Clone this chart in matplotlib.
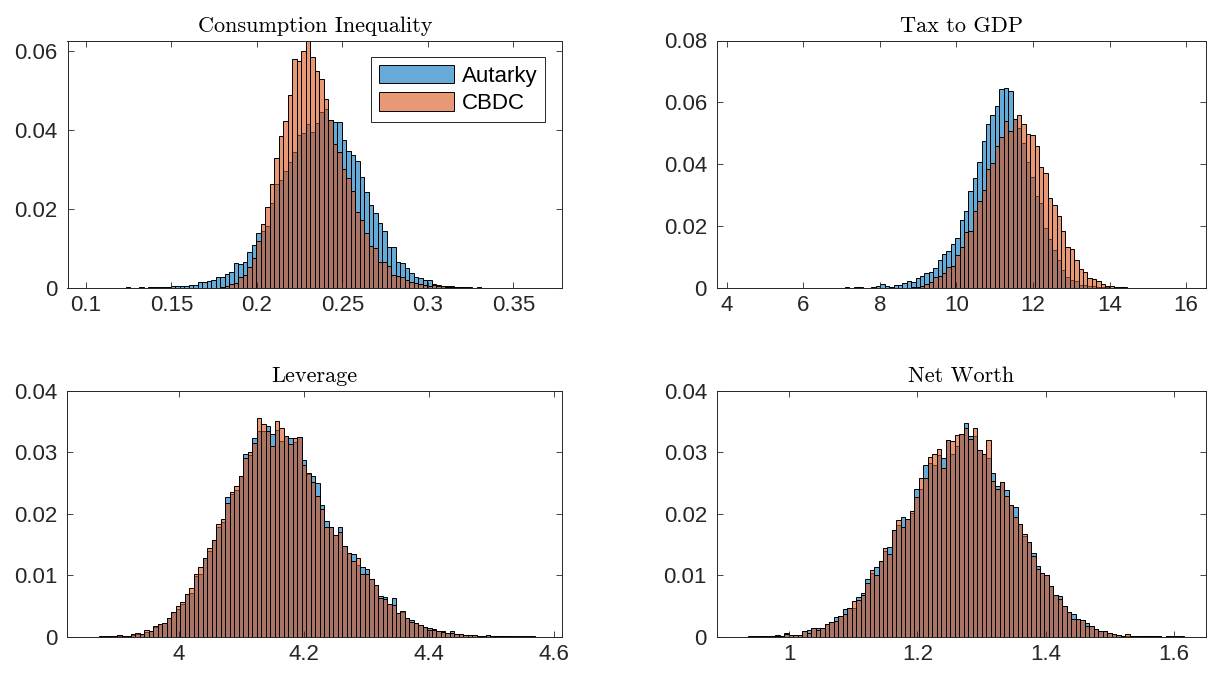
import numpy as np
import matplotlib
matplotlib.use("Agg")
import matplotlib.pyplot as plt

plt.rcParams["font.family"] = ["Liberation Sans", "DejaVu Sans"]

# bar heights (probability per bin), 100 bins each
ineq_aut = [
    0.0001, 0.0001, 0.0000, 0.0001, 0.0000, 0.0001, 0.0001, 0.0001, 0.0002, 0.0001,
    0.0001, 0.0002, 0.0001, 0.0002, 0.0002, 0.0002, 0.0003, 0.0003, 0.0004, 0.0005,
    0.0005, 0.0006, 0.0007, 0.0008, 0.0014, 0.0014, 0.0017, 0.0021, 0.0028, 0.0028,
    0.0036, 0.0041, 0.0062, 0.0060, 0.0066, 0.0090, 0.0108, 0.0139, 0.0145, 0.0158,
    0.0216, 0.0262, 0.0274, 0.0297, 0.0318, 0.0345, 0.0387, 0.0392, 0.0416, 0.0394,
    0.0417, 0.0446, 0.0454, 0.0425, 0.0420, 0.0420, 0.0374, 0.0347, 0.0336, 0.0321,
    0.0282, 0.0242, 0.0210, 0.0189, 0.0164, 0.0143, 0.0103, 0.0103, 0.0067, 0.0063,
    0.0050, 0.0038, 0.0029, 0.0025, 0.0021, 0.0021, 0.0010, 0.0008, 0.0005, 0.0005,
    0.0004, 0.0003, 0.0003, 0.0002, 0.0002, 0.0001, 0.0002, 0.0001, 0.0001, 0.0001,
    0.0001, 0.0001, 0.0000, 0.0001, 0.0000, 0.0001, 0.0000, 0.0000, 0.0001, 0.0001,
]
ineq_cbdc = [
    0.0000, 0.0000, 0.0000, 0.0000, 0.0000, 0.0000, 0.0000, 0.0000, 0.0000, 0.0000,
    0.0000, 0.0000, 0.0000, 0.0000, 0.0000, 0.0000, 0.0000, 0.0000, 0.0000, 0.0000,
    0.0000, 0.0000, 0.0000, 0.0000, 0.0000, 0.0000, 0.0000, 0.0000, 0.0001, 0.0002,
    0.0004, 0.0009, 0.0012, 0.0027, 0.0034, 0.0054, 0.0076, 0.0119, 0.0163, 0.0204,
    0.0263, 0.0328, 0.0384, 0.0423, 0.0488, 0.0579, 0.0574, 0.0599, 0.0624, 0.0585,
    0.0548, 0.0528, 0.0478, 0.0426, 0.0365, 0.0345, 0.0300, 0.0278, 0.0246, 0.0193,
    0.0172, 0.0139, 0.0105, 0.0101, 0.0067, 0.0067, 0.0055, 0.0032, 0.0030, 0.0027,
    0.0019, 0.0014, 0.0013, 0.0010, 0.0008, 0.0006, 0.0008, 0.0006, 0.0004, 0.0003,
    0.0003, 0.0002, 0.0002, 0.0001, 0.0001, 0.0001, 0.0001, 0.0001, 0.0000, 0.0001,
    0.0000, 0.0000, 0.0000, 0.0000, 0.0000, 0.0000, 0.0000, 0.0000, 0.0000, 0.0000,
]

tax_aut = [
    0.0000, 0.0001, 0.0000, 0.0000, 0.0001, 0.0000, 0.0000, 0.0001, 0.0000, 0.0001,
    0.0000, 0.0001, 0.0000, 0.0001, 0.0001, 0.0000, 0.0001, 0.0001, 0.0001, 0.0001,
    0.0002, 0.0001, 0.0002, 0.0002, 0.0003, 0.0002, 0.0003, 0.0003, 0.0002, 0.0001,
    0.0004, 0.0006, 0.0014, 0.0006, 0.0005, 0.0012, 0.0010, 0.0017, 0.0024, 0.0019,
    0.0033, 0.0041, 0.0048, 0.0054, 0.0065, 0.0092, 0.0112, 0.0120, 0.0144, 0.0161,
    0.0220, 0.0250, 0.0313, 0.0356, 0.0409, 0.0475, 0.0532, 0.0561, 0.0589, 0.0642,
    0.0648, 0.0636, 0.0545, 0.0516, 0.0468, 0.0409, 0.0360, 0.0298, 0.0276, 0.0194,
    0.0158, 0.0124, 0.0091, 0.0059, 0.0038, 0.0027, 0.0024, 0.0012, 0.0012, 0.0009,
    0.0006, 0.0005, 0.0003, 0.0003, 0.0002, 0.0002, 0.0001, 0.0002, 0.0001, 0.0001,
    0.0001, 0.0000, 0.0001, 0.0000, 0.0001, 0.0000, 0.0000, 0.0000, 0.0000, 0.0001,
]
tax_cbdc = [
    0.0000, 0.0000, 0.0000, 0.0000, 0.0000, 0.0000, 0.0000, 0.0000, 0.0000, 0.0000,
    0.0000, 0.0000, 0.0000, 0.0000, 0.0000, 0.0000, 0.0000, 0.0000, 0.0000, 0.0000,
    0.0000, 0.0000, 0.0000, 0.0000, 0.0000, 0.0000, 0.0000, 0.0000, 0.0000, 0.0000,
    0.0000, 0.0000, 0.0000, 0.0000, 0.0000, 0.0000, 0.0000, 0.0001, 0.0002, 0.0003,
    0.0005, 0.0009, 0.0014, 0.0019, 0.0035, 0.0040, 0.0048, 0.0070, 0.0072, 0.0108,
    0.0134, 0.0182, 0.0186, 0.0250, 0.0283, 0.0317, 0.0384, 0.0403, 0.0461, 0.0487,
    0.0541, 0.0507, 0.0546, 0.0561, 0.0532, 0.0498, 0.0495, 0.0459, 0.0392, 0.0373,
    0.0292, 0.0268, 0.0233, 0.0186, 0.0134, 0.0126, 0.0091, 0.0062, 0.0054, 0.0032,
    0.0029, 0.0023, 0.0013, 0.0009, 0.0006, 0.0005, 0.0005, 0.0003, 0.0002, 0.0002,
    0.0001, 0.0001, 0.0001, 0.0000, 0.0001, 0.0000, 0.0000, 0.0000, 0.0000, 0.0000,
]

lev_aut = [
    0.0000, 0.0000, 0.0001, 0.0000, 0.0001, 0.0001, 0.0002, 0.0002, 0.0002, 0.0004,
    0.0005, 0.0005, 0.0008, 0.0010, 0.0016, 0.0021, 0.0023, 0.0031, 0.0040, 0.0046,
    0.0054, 0.0070, 0.0072, 0.0099, 0.0103, 0.0129, 0.0140, 0.0157, 0.0179, 0.0187,
    0.0227, 0.0233, 0.0238, 0.0262, 0.0297, 0.0295, 0.0323, 0.0334, 0.0335, 0.0343,
    0.0330, 0.0336, 0.0319, 0.0326, 0.0323, 0.0317, 0.0324, 0.0288, 0.0264, 0.0262,
    0.0250, 0.0214, 0.0189, 0.0179, 0.0165, 0.0178, 0.0148, 0.0136, 0.0135, 0.0117,
    0.0114, 0.0111, 0.0094, 0.0085, 0.0066, 0.0065, 0.0053, 0.0064, 0.0039, 0.0040,
    0.0031, 0.0028, 0.0022, 0.0019, 0.0017, 0.0015, 0.0013, 0.0010, 0.0010, 0.0007,
    0.0009, 0.0005, 0.0005, 0.0004, 0.0004, 0.0004, 0.0002, 0.0002, 0.0003, 0.0002,
    0.0002, 0.0001, 0.0001, 0.0001, 0.0001, 0.0000, 0.0001, 0.0000, 0.0001, 0.0000,
]
lev_cbdc = [
    0.0000, 0.0000, 0.0000, 0.0001, 0.0001, 0.0001, 0.0003, 0.0002, 0.0002, 0.0005,
    0.0006, 0.0005, 0.0011, 0.0010, 0.0018, 0.0021, 0.0023, 0.0031, 0.0040, 0.0050,
    0.0057, 0.0070, 0.0080, 0.0102, 0.0113, 0.0129, 0.0145, 0.0157, 0.0184, 0.0192,
    0.0218, 0.0236, 0.0246, 0.0262, 0.0291, 0.0300, 0.0315, 0.0356, 0.0346, 0.0334,
    0.0311, 0.0351, 0.0339, 0.0326, 0.0313, 0.0323, 0.0324, 0.0280, 0.0266, 0.0251,
    0.0229, 0.0208, 0.0179, 0.0179, 0.0165, 0.0170, 0.0148, 0.0136, 0.0124, 0.0129,
    0.0103, 0.0102, 0.0094, 0.0085, 0.0064, 0.0062, 0.0053, 0.0052, 0.0039, 0.0043,
    0.0031, 0.0025, 0.0022, 0.0019, 0.0017, 0.0012, 0.0011, 0.0010, 0.0008, 0.0007,
    0.0006, 0.0005, 0.0005, 0.0004, 0.0004, 0.0004, 0.0002, 0.0002, 0.0003, 0.0002,
    0.0002, 0.0001, 0.0001, 0.0001, 0.0000, 0.0001, 0.0000, 0.0001, 0.0000, 0.0000,
]

nw_aut = [
    0.0000, 0.0000, 0.0001, 0.0000, 0.0001, 0.0001, 0.0000, 0.0001, 0.0003, 0.0002,
    0.0006, 0.0004, 0.0004, 0.0004, 0.0010, 0.0011, 0.0014, 0.0015, 0.0014, 0.0021,
    0.0025, 0.0033, 0.0034, 0.0045, 0.0047, 0.0047, 0.0065, 0.0071, 0.0095, 0.0104,
    0.0113, 0.0124, 0.0140, 0.0146, 0.0173, 0.0182, 0.0195, 0.0192, 0.0202, 0.0241,
    0.0240, 0.0279, 0.0283, 0.0279, 0.0296, 0.0290, 0.0320, 0.0297, 0.0310, 0.0330,
    0.0348, 0.0327, 0.0327, 0.0304, 0.0298, 0.0291, 0.0266, 0.0246, 0.0252, 0.0239,
    0.0215, 0.0211, 0.0184, 0.0164, 0.0154, 0.0136, 0.0115, 0.0104, 0.0100, 0.0083,
    0.0068, 0.0066, 0.0051, 0.0041, 0.0037, 0.0030, 0.0027, 0.0023, 0.0018, 0.0013,
    0.0010, 0.0009, 0.0007, 0.0005, 0.0004, 0.0002, 0.0002, 0.0002, 0.0001, 0.0001,
    0.0002, 0.0002, 0.0001, 0.0001, 0.0000, 0.0001, 0.0001, 0.0000, 0.0001, 0.0000,
]
nw_cbdc = [
    0.0000, 0.0000, 0.0000, 0.0001, 0.0001, 0.0001, 0.0001, 0.0001, 0.0002, 0.0002,
    0.0005, 0.0004, 0.0004, 0.0004, 0.0010, 0.0007, 0.0014, 0.0011, 0.0014, 0.0021,
    0.0025, 0.0026, 0.0034, 0.0038, 0.0047, 0.0059, 0.0060, 0.0069, 0.0088, 0.0109,
    0.0101, 0.0124, 0.0145, 0.0135, 0.0173, 0.0190, 0.0178, 0.0192, 0.0205, 0.0228,
    0.0259, 0.0259, 0.0293, 0.0298, 0.0305, 0.0274, 0.0320, 0.0318, 0.0328, 0.0330,
    0.0339, 0.0322, 0.0339, 0.0304, 0.0298, 0.0320, 0.0254, 0.0241, 0.0252, 0.0229,
    0.0215, 0.0195, 0.0184, 0.0168, 0.0154, 0.0131, 0.0111, 0.0104, 0.0100, 0.0083,
    0.0068, 0.0062, 0.0051, 0.0041, 0.0030, 0.0030, 0.0027, 0.0018, 0.0018, 0.0013,
    0.0010, 0.0009, 0.0007, 0.0005, 0.0004, 0.0002, 0.0005, 0.0002, 0.0001, 0.0001,
    0.0002, 0.0002, 0.0001, 0.0001, 0.0000, 0.0001, 0.0000, 0.0001, 0.0000, 0.0000,
]

# data range covered by the bins, axis limits, ticks
titles = ["Consumption Inequality", "Tax to GDP", "Leverage", "Net Worth"]
bin_range = [(0.1023, 0.3656), (4.33, 15.84), (3.858, 4.577), (0.9225, 1.622)]
xlims = [(0.0892, 0.3785), (3.74, 16.52), (3.821, 4.613), (0.887, 1.65)]
ylims = [(0, 0.0626), (0, 0.08), (0, 0.04), (0, 0.04)]
xticks = [[0.1, 0.15, 0.2, 0.25, 0.3, 0.35], [4, 6, 8, 10, 12, 14, 16],
          [4, 4.2, 4.4, 4.6], [1, 1.2, 1.4, 1.6]]
xticklabels = [["0.1", "0.15", "0.2", "0.25", "0.3", "0.35"],
               ["4", "6", "8", "10", "12", "14", "16"],
               ["4", "4.2", "4.4", "4.6"], ["1", "1.2", "1.4", "1.6"]]
yticks = [[0, 0.02, 0.04, 0.06], [0, 0.02, 0.04, 0.06, 0.08],
          [0, 0.01, 0.02, 0.03, 0.04], [0, 0.01, 0.02, 0.03, 0.04]]
yticklabels = [["0", "0.02", "0.04", "0.06"], ["0", "0.02", "0.04", "0.06", "0.08"],
               ["0", "0.01", "0.02", "0.03", "0.04"], ["0", "0.01", "0.02", "0.03", "0.04"]]

autarky = [ineq_aut, tax_aut, lev_aut, nw_aut]
cbdc = [ineq_cbdc, tax_cbdc, lev_cbdc, nw_cbdc]

blue = (0.0, 0.447, 0.741, 0.6)
orange = (0.85, 0.325, 0.098, 0.6)
dark = "#262626"

fig = plt.figure(figsize=(12.08, 6.77), dpi=100)
W, H = 1208, 677
# axes boxes in pixels: left, top, right, bottom
boxes = [(67.5, 40.5, 562, 288), (716.7, 40.5, 1206, 288.3),
         (67.3, 390.7, 562.3, 637), (716.7, 390.7, 1206, 637)]

for i in range(4):
    l, t, r, b = boxes[i]
    ax = fig.add_axes([l / W, 1 - b / H, (r - l) / W, (b - t) / H])
    edges = np.linspace(bin_range[i][0], bin_range[i][1], len(autarky[i]) + 1)
    w = edges[1] - edges[0]
    ax.bar(edges[:-1], autarky[i], width=w, align="edge", facecolor=blue,
           edgecolor="black", linewidth=0.7, label="Autarky")
    ax.bar(edges[:-1], cbdc[i], width=w, align="edge", facecolor=orange,
           edgecolor="black", linewidth=0.7, label="CBDC")
    ax.set_xlim(xlims[i])
    ax.set_ylim(ylims[i])
    ax.set_xticks(xticks[i])
    ax.set_xticklabels(xticklabels[i])
    ax.set_yticks(yticks[i])
    ax.set_yticklabels(yticklabels[i])
    ax.tick_params(direction="in", top=True, right=True, length=4.5, width=0.6,
                   labelsize=16, colors=dark)
    ax.tick_params(axis="y", pad=7)
    ax.tick_params(axis="x", pad=5)
    for s in ax.spines.values():
        s.set_color(dark)
        s.set_linewidth(0.7)
    ax.set_title(titles[i], fontfamily="cmr10", fontsize=16, pad=6, color="black")
    if i == 0:
        leg = ax.legend(loc="upper right", fontsize=16, handlelength=3.4,
                        handleheight=0.9, labelspacing=0.25, borderpad=0.35,
                        handletextpad=0.35, borderaxespad=0.75, fancybox=False,
                        framealpha=1, edgecolor=dark)
        leg.get_frame().set_linewidth(0.7)

fig.savefig("out.png", dpi=100)
